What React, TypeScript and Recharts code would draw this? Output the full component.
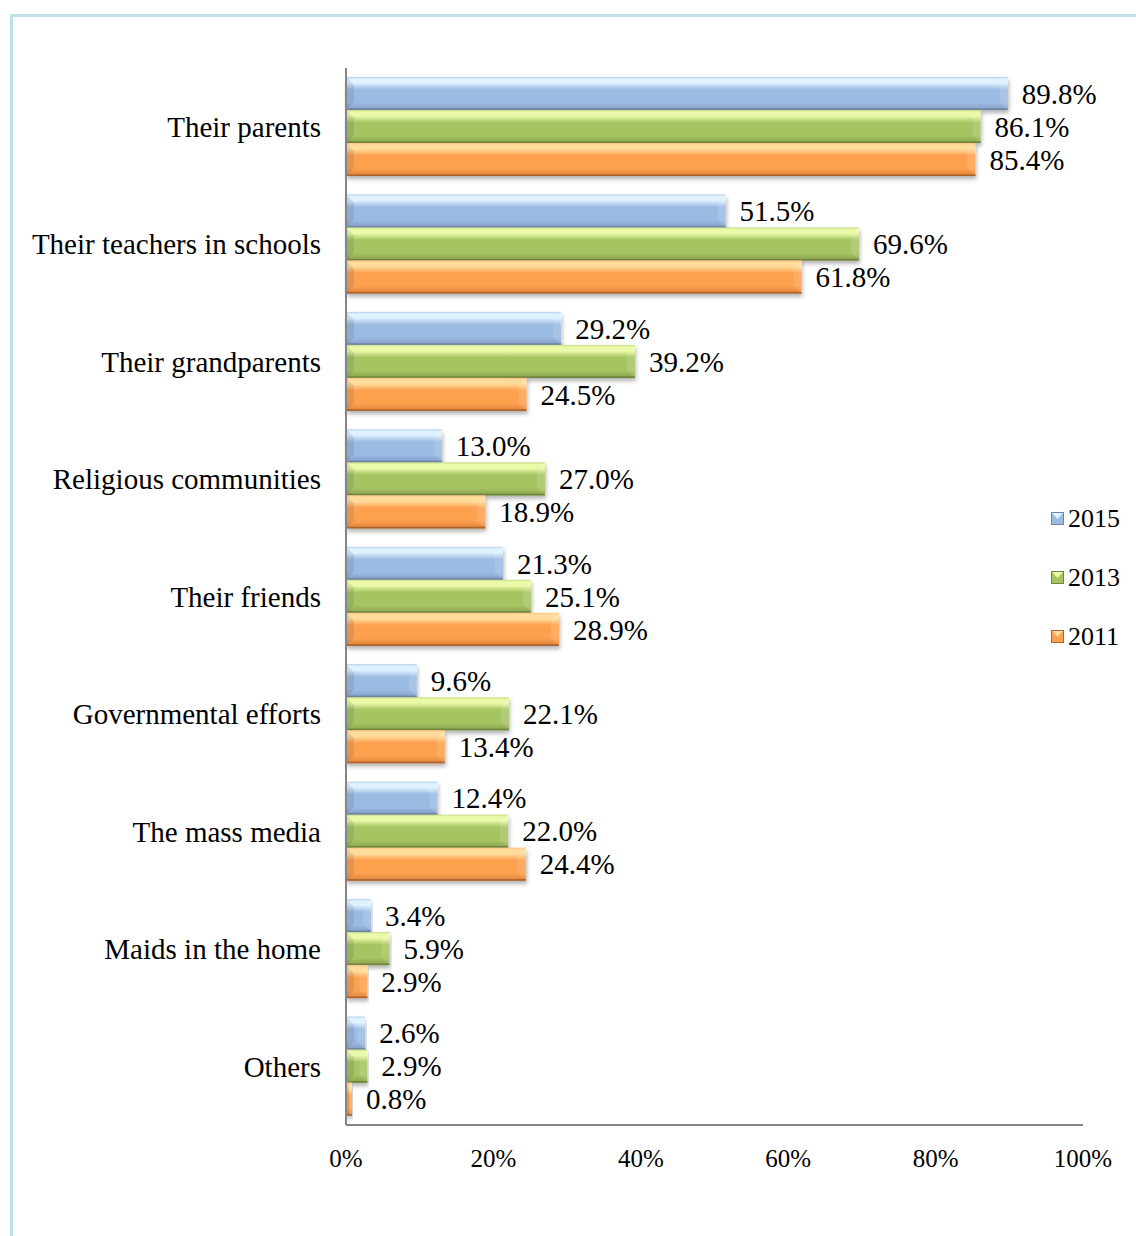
import { BarChart, Bar, XAxis, YAxis, LabelList } from 'recharts';

const categories = [
    'Their parents',
    'Their teachers in schools',
    'Their grandparents',
    'Religious communities',
    'Their friends',
    'Governmental efforts',
    'The mass media',
    'Maids in the home',
    'Others',
];

const v2015 = [89.8, 51.5, 29.2, 13.0, 21.3, 9.6, 12.4, 3.4, 2.6];
const v2013 = [86.1, 69.6, 39.2, 27.0, 25.1, 22.1, 22.0, 5.9, 2.9];
const v2011 = [85.4, 61.8, 24.5, 18.9, 28.9, 13.4, 24.4, 2.9, 0.8];

const xTicks = [0, 20, 40, 60, 80, 100];

const data = categories.map((name, i) => ({
    name,
    y2015: v2015[i],
    y2013: v2013[i],
    y2011: v2011[i],
}));

const tones: Record<string, { top: string; light: string; main: string; dark: string; edge: string }> = {
    blue: { top: '#b4cdea', light: '#def2ff', main: '#9cbbe2', dark: '#8aa5cd', edge: '#6f84a6' },
    green: { top: '#c3dc86', light: '#eafaa8', main: '#a6c462', dark: '#91ab52', edge: '#6f853c' },
    orange: { top: '#ffc27e', light: '#ffdc9c', main: '#fda14f', dark: '#e5893f', edge: '#ad652c' },
};

const series = [
    { key: 'y2015', label: '2015', tone: 'blue' },
    { key: 'y2013', label: '2013', tone: 'green' },
    { key: 'y2011', label: '2011', tone: 'orange' },
];

const serif = '"Liberation Serif", "Times New Roman", serif';

const BevelBar = (props: any) => {
    const { x, y, width, height, tone } = props;
    if (!width || width <= 0) return null;
    const c = tones[tone];
    const b = Math.min(8, width / 2, height / 4);
    return (
        <g filter="url(#barShadow)">
            <rect x={x} y={y} width={width} height={height} fill={`url(#grad-${tone})`} />
            <polygon
                points={`${x},${y} ${x + b},${y + b} ${x + b},${y + height - b} ${x},${y + height}`}
                fill="rgba(40,60,90,0.12)"
            />
            <polygon
                points={`${x + width},${y} ${x + width - b},${y + b} ${x + width - b},${y + height - b} ${x + width},${y + height}`}
                fill="rgba(255,255,255,0.12)"
            />
            <rect x={x} y={y + height - 1.5} width={width} height={1.5} fill={c.edge} />
        </g>
    );
};

const LegendIcon = ({ tone }: { tone: string }) => {
    const c = tones[tone];
    return (
        <svg width={13} height={13} style={{ marginRight: 4 }}>
            <rect x={0.5} y={0.5} width={12} height={12} fill={c.main} stroke={c.edge} strokeWidth={1} />
            <polygon points="1,1 12,1 6.5,7" fill={c.light} />
        </svg>
    );
};

const ChartLegend = () => (
    <div style={{ position: 'absolute', left: 1051, top: 489, fontFamily: serif, fontSize: 26, color: '#000' }}>
        {series.map(s => (
            <div key={s.key} style={{ display: 'flex', alignItems: 'center', height: 59 }}>
                <LegendIcon tone={s.tone} />
                <span>{s.label}</span>
            </div>
        ))}
    </div>
);

const App = () => {
    return (
        <div style={{ position: 'absolute', left: 0, top: 0, width: 1136, height: 1236, overflow: 'hidden', background: '#fff' }}>
            <div
                style={{
                    position: 'absolute',
                    left: 10,
                    top: 14,
                    width: 2000,
                    height: 2000,
                    borderTop: '3px solid #bfe1ea',
                    borderLeft: '3px solid #bfe1ea',
                }}
            />
            <div style={{ position: 'absolute', left: 0, top: 0 }}>
                <BarChart
                    width={1136}
                    height={1236}
                    data={data}
                    layout="vertical"
                    margin={{ top: 68, right: 53, bottom: 71, left: 0 }}
                    barCategoryGap={9}
                    barGap={0}
                >
                    <defs>
                        {Object.keys(tones).map(t => (
                            <linearGradient key={t} id={`grad-${t}`} x1="0" y1="0" x2="0" y2="1">
                                <stop offset="0" stopColor={tones[t].top} />
                                <stop offset="0.06" stopColor={tones[t].light} />
                                <stop offset="0.18" stopColor={tones[t].light} />
                                <stop offset="0.38" stopColor={tones[t].main} />
                                <stop offset="0.78" stopColor={tones[t].main} />
                                <stop offset="0.94" stopColor={tones[t].dark} />
                                <stop offset="1" stopColor={tones[t].edge} />
                            </linearGradient>
                        ))}
                        <filter id="barShadow" x="-5%" y="-20%" width="110%" height="160%">
                            <feDropShadow dx="1" dy="3" stdDeviation="2" floodColor="#000" floodOpacity="0.3" />
                        </filter>
                    </defs>
                    <XAxis
                        type="number"
                        domain={[0, 100]}
                        ticks={xTicks}
                        tickFormatter={(v: number) => `${v}%`}
                        axisLine={{ stroke: '#868686', strokeWidth: 2 }}
                        tickLine={false}
                        tickSize={0}
                        tickMargin={24}
                        height={40}
                        tick={{ fontSize: 25, fontFamily: serif, fill: '#000' }}
                    />
                    <YAxis
                        type="category"
                        dataKey="name"
                        width={346}
                        axisLine={{ stroke: '#868686', strokeWidth: 2 }}
                        tickLine={false}
                        tickSize={0}
                        tickMargin={25}
                        interval={0}
                        tick={{ fontSize: 29, fontFamily: serif, fill: '#000' }}
                    />
                    {series.map(s => (
                        <Bar
                            key={s.key}
                            dataKey={s.key}
                            name={s.label}
                            fill={tones[s.tone].main}
                            isAnimationActive={false}
                            shape={(p: any) => <BevelBar {...p} tone={s.tone} />}
                        >
                            <LabelList
                                dataKey={s.key}
                                position="right"
                                offset={14}
                                formatter={(v: any) => `${Number(v).toFixed(1)}%`}
                                fontSize={29}
                                fontFamily={serif}
                                fill="#000"
                            />
                        </Bar>
                    ))}
                </BarChart>
            </div>
            <ChartLegend />
        </div>
    );
};

export default App;
